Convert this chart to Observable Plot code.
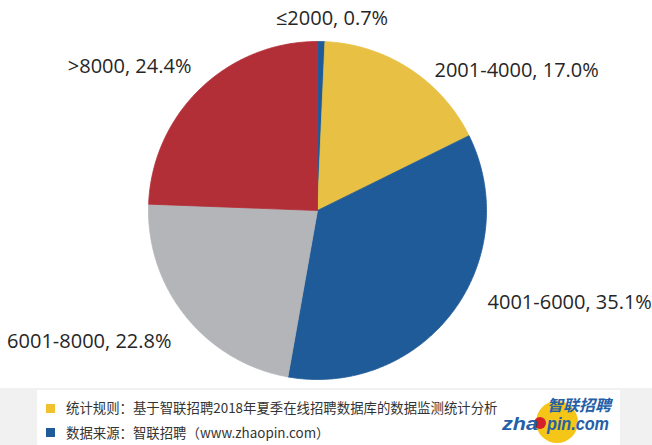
<!DOCTYPE html>
<html><head><meta charset="utf-8">
<script src="https://cdn.jsdelivr.net/npm/d3@7"></script>
<script src="https://cdn.jsdelivr.net/npm/@observablehq/plot@0.6"></script>
<style>
html,body{margin:0;padding:0;background:#fff;}
#wrap{position:relative;width:652px;height:445px;overflow:hidden;background:#fff;}
#chart{position:absolute;left:0;top:0;}
#foot{position:absolute;left:0;top:388px;width:652px;height:57px;background:#f1f1f1;}
#box{position:absolute;left:37px;top:2px;width:583px;height:55px;background:#fff;}
.note{position:absolute;left:66px;font-family:"Noto Sans CJK SC","Noto Sans",sans-serif;font-size:13.4px;color:#333;white-space:nowrap;line-height:16px;}
.sq{position:absolute;left:46px;width:9px;height:9px;}
#logo{position:absolute;left:495px;top:390px;}
</style></head>
<body><div id="wrap">
<div id="chart"></div>
<div id="foot"><div id="box"></div></div>
<div class="sq" style="top:404px;background:#F0C230"></div>
<div class="note" id="n1" style="top:399px"></div>
<div class="sq" style="top:428px;background:#1F5B99"></div>
<div class="note" id="n2" style="top:424px"></div>
<svg id="logo" width="140" height="55" viewBox="0 0 140 55">
  <circle cx="62" cy="32" r="21" fill="#F5C518"/>
  <circle cx="45" cy="33" r="6" fill="#D4202A"/>
  <text font-weight="bold" font-style="italic" fill="#2460A8">
    <tspan x="52" y="21" font-family="Noto Sans CJK SC" font-size="15.5" textLength="64" lengthAdjust="spacingAndGlyphs">智联招聘</tspan>
    <tspan x="7" y="40" font-family="Liberation Sans" font-size="19" textLength="36" lengthAdjust="spacingAndGlyphs">zha</tspan>
    <tspan x="52" y="40" font-family="Liberation Sans" font-size="19" textLength="62" lengthAdjust="spacingAndGlyphs">pin.com</tspan>
  </text>
</svg>
</div>
<script>
// ---- data ----
const categories = ["≤2000", "2001-4000", "4001-6000", "6001-8000", ">8000"];
const shares = [0.7, 17.0, 35.1, 22.8, 24.4];
const sliceColors = ["#1F5B99", "#E8C043", "#1F5B99", "#B4B5B9", "#B22F37"];
const noteLines = ["统计规则：基于智联招聘2018年夏季在线招聘数据库的数据监测统计分析", "数据来源：智联招聘（www.zhaopin.com）"];
// label layout (in radius units, relative to pie centre) and anchors
const labelSpots = [[0.086, 1.133, "middle"], [0.692, 0.825, "start"], [1.006, -0.542, "start"], [-0.864, -0.773, "end"], [-0.746, 0.854, "end"]];

document.getElementById("n1").textContent = noteLines[0];
document.getElementById("n2").textContent = noteLines[1];

const pie = d3.pie().sort(null).value(d => d.v).startAngle(0).endAngle(2 * Math.PI);
const arcs = pie(categories.map((c, i) => ({cat: c, v: shares[i]})));
const pts = [];
arcs.forEach((a, i) => {
  const key = i + ":" + a.data.cat;
  pts.push({x: 0, y: 0, z: key, cat: a.data.cat});
  const n = Math.max(2, Math.ceil((a.endAngle - a.startAngle) / (Math.PI / 360)));
  for (let k = 0; k <= n; k++) {
    const t = a.startAngle + (a.endAngle - a.startAngle) * k / n;
    pts.push({x: Math.sin(t), y: Math.cos(t), z: key, cat: a.data.cat});
  }
  pts.push({x: 0, y: 0, z: key, cat: a.data.cat});
});
const labelData = categories.map((c, i) => ({
  text: `${c}, ${shares[i].toFixed(1)}%`, x: labelSpots[i][0], y: labelSpots[i][1], anchor: labelSpots[i][2]
}));
const txt = anchor => Plot.text(labelData.filter(d => d.anchor === anchor), {
  x: "x", y: "y", text: "text", textAnchor: anchor,
  fontSize: 20, fontFamily: "Open Sans", fill: "#262626"
});
const chart = Plot.plot({
  width: 652, height: 388,
  x: {domain: [-1, 1], range: [148, 486], axis: null},
  y: {domain: [-1, 1], range: [379, 41], axis: null},
  color: {domain: [0,1,2,3,4].map(i => i + ":" + categories[i]), range: sliceColors},
  style: {background: "transparent"},
  marks: [
    Plot.line(pts, {x: "x", y: "y", z: "z", fill: "z", stroke: "z", strokeWidth: 0.8, curve: "linear"}),
    txt("middle"), txt("start"), txt("end")
  ]
});
document.getElementById("chart").appendChild(chart);
</script>
</body></html>
